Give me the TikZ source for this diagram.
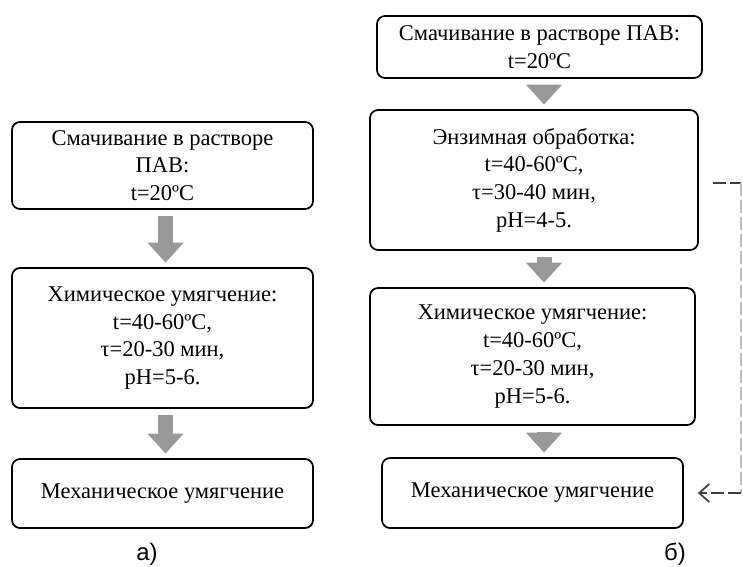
\documentclass[tikz,border=0pt]{standalone}
\usepackage{fontspec}
\setmainfont{Liberation Serif}
\newfontfamily\labelfont{Liberation Sans}
\usetikzlibrary{arrows.meta}
\tikzset{
    stepbox/.style={draw, rounded corners=0.08cm, line width=0.5pt, align=center, inner sep=0pt, font=\fontsize{6.4}{7.9}\selectfont},
    flowarrow/.style={line width=0.15cm, draw=black!40, -{Triangle[width=0.35cm,length=0.2cm]}, shorten <=0.06cm, shorten >=0.045cm},
    loopline/.style={line width=0.5pt, dash pattern=on 0.13cm off 0.04cm},
    partlabel/.style={font=\labelfont\fontsize{6.8}{8}\selectfont}
}
\begin{document}
\begin{tikzpicture}
        \useasboundingbox (0,0) rectangle (7.43,-5.66);
        \coordinate (lcol) at (1.655,0);
        \coordinate (rcol) at (5.44,0);
        \coordinate (loopR) at (7.41,-1.83);
        \node [stepbox, minimum width=3.01cm, minimum height=0.87cm] (a1) at (1.625,-1.655) {Смачивание в растворе\\ПАВ:\\t=20ºC};
        \node [stepbox, minimum width=3.01cm, minimum height=1.40cm] (a2) at (1.625,-3.38) {Химическое умягчение:\\t=40-60ºC,\\τ=20-30 мин,\\pH=5-6.};
        \node [stepbox, minimum width=3.01cm, minimum height=0.69cm] (a3) at (1.625,-4.935) {Механическое умягчение};
        \node [stepbox, minimum width=3.25cm, minimum height=0.62cm] (b1) at (5.395,-0.47) {Смачивание в растворе ПАВ:\\t=20ºC};
        \node [stepbox, minimum width=3.28cm, minimum height=1.40cm] (b2) at (5.34,-1.80) {Энзимная обработка:\\t=40-60ºC,\\τ=30-40 мин,\\pH=4-5.};
        \node [stepbox, minimum width=3.25cm, minimum height=1.37cm] (b3) at (5.325,-3.565) {Химическое умягчение:\\t=40-60ºC,\\τ=20-30 мин,\\pH=5-6.};
        \node [stepbox, minimum width=3.01cm, minimum height=0.70cm] (b4) at (5.325,-4.93) {Механическое умягчение};
        \node [partlabel] (alabel) at (1.47,-5.54) {а)};
        \node [partlabel] (blabel) at (6.75,-5.54) {б)};
        \draw [flowarrow] (a1.south -| lcol) -- (a2.north -| lcol);
        \draw [flowarrow] (a2.south -| lcol) -- (a3.north -| lcol);
        \draw [flowarrow] (b1.south -| rcol) -- (b2.north -| rcol);
        \draw [flowarrow] (b2.south -| rcol) -- (b3.north -| rcol);
        \draw [flowarrow] (b3.south -| rcol) -- (b4.north -| rcol);
        \draw [loopline, black!75] ([xshift=0.14cm]b2.east |- loopR) -- (loopR);
        \draw [loopline, black!25] (loopR) -- (loopR |- b4.east);
        \draw [loopline, black!75, -{Straight Barb[length=0.1cm,width=0.18cm]}] (loopR |- b4.east) -- ([xshift=0.14cm]b4.east);
    \end{tikzpicture}
\end{document}
